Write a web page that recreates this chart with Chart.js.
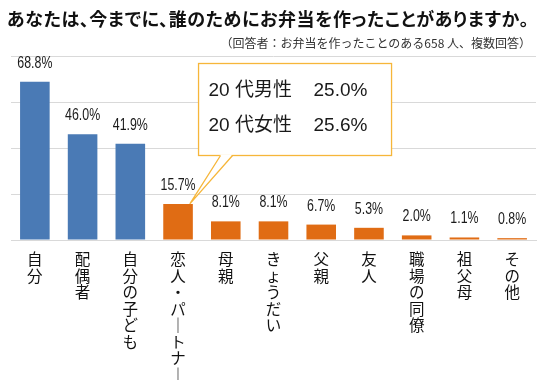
<!DOCTYPE html>
<html><head><meta charset="utf-8">
<script src="https://cdn.jsdelivr.net/npm/chart.js@4.4.0/dist/chart.umd.min.js"></script>
<style>
html,body{margin:0;padding:0;background:#fff;}
#wrap{position:relative;width:545px;height:380px;overflow:hidden;}
canvas{position:absolute;left:0;top:0;}
#title{position:absolute;left:7px;top:9px;font-weight:bold;font-size:18px;line-height:1;font-family:"Noto Sans CJK JP";color:#111;white-space:nowrap;font-feature-settings:"palt";letter-spacing:0.6px;}
#sub{position:absolute;right:14px;top:36.5px;font-size:12px;line-height:1;font-family:"Noto Sans CJK JP";color:#333;white-space:nowrap;}
</style></head><body>
<div id="wrap">
<canvas id="c" width="545" height="380"></canvas>
<div id="title">あなたは、今までに、誰のためにお弁当を作ったことがありますか。</div>
<div id="sub">（回答者：お弁当を作ったことのある658 人、複数回答）</div>
</div>
<script>
const categories = ['自分','配偶者','自分の子ども','恋人・パートナー','母親','きょうだい','父親','友人','職場の同僚','祖父母','その他'];
const values = [68.8, 46.0, 41.9, 15.7, 8.1, 8.1, 6.7, 5.3, 2.0, 1.1, 0.8];
const yTicks = [0, 20, 40, 60, 80];
const calloutLabels = ['20 代男性', '20 代女性'];
const calloutValues = [25.0, 25.6];
const calloutIndex = 3;

const BLUE = '#4a7ab5';
const ORANGE = '#e06c14';
const CALLOUT = '#f6b63a';
const FONT = '"Liberation Sans", "Noto Sans CJK JP", sans-serif';
const CJK = '"Noto Sans CJK JP", sans-serif';

const labelsPlugin = {
  id: 'valueLabels',
  afterDatasetsDraw(chart) {
    const ctx = chart.ctx;
    const meta = chart.getDatasetMeta(0);
    ctx.save();
    ctx.fillStyle = '#1a1a1a';
    ctx.font = '16.5px ' + FONT;
    ctx.textAlign = 'center';
    ctx.textBaseline = 'alphabetic';
    meta.data.forEach((bar, i) => {
      ctx.save();
      ctx.translate(bar.x, bar.y - 14);
      ctx.scale(0.75, 1);
      ctx.fillText(values[i].toFixed(1) + '%', 0, 0);
      ctx.restore();
    });
    ctx.restore();
  }
};

const calloutPlugin = {
  id: 'callout',
  afterDatasetsDraw(chart) {
    const ctx = chart.ctx;
    const bar = chart.getDatasetMeta(0).data[calloutIndex];
    const bx = bar.x + 20.5, by = 63.5, bw = 193, bh = 92;
    const tipX = bar.x + bar.width / 2 - 3, tipY = bar.y;
    const b1 = bar.x + 42.5, b2 = bar.x + 54.5;
    ctx.save();
    ctx.lineWidth = 1.3;
    ctx.strokeStyle = CALLOUT;
    ctx.fillStyle = '#fff';
    ctx.fillRect(bx, by, bw, bh);
    ctx.strokeRect(bx, by, bw, bh);
    ctx.beginPath();
    ctx.moveTo(b1, by + bh - 1);
    ctx.lineTo(tipX, tipY);
    ctx.lineTo(b2, by + bh - 1);
    ctx.closePath();
    ctx.fill();
    ctx.beginPath();
    ctx.moveTo(b1, by + bh);
    ctx.lineTo(tipX, tipY);
    ctx.lineTo(b2, by + bh);
    ctx.stroke();
    ctx.fillStyle = '#1a1a1a';
    ctx.font = '19px ' + FONT;
    ctx.textBaseline = 'middle';
    ctx.textAlign = 'left';
    const lineY = [91, 126];
    calloutLabels.forEach((t, i) => {
      ctx.fillText(t, bx + 10, lineY[i]);
      ctx.fillText(calloutValues[i].toFixed(1) + '%', bx + 115, lineY[i]);
    });
    ctx.restore();
  }
};

new Chart(document.getElementById('c').getContext('2d'), {
  type: 'bar',
  data: {
    labels: categories,
    datasets: [{
      data: values,
      backgroundColor: values.map((v, i) => i < 3 ? BLUE : ORANGE),
      barPercentage: 0.62,
      categoryPercentage: 1
    }]
  },
  options: {
    responsive: false,
    animation: false,
    devicePixelRatio: 1,
    layout: { padding: { left: 11, right: 9, top: 56, bottom: 0 } },
    plugins: { legend: { display: false }, tooltip: { enabled: false }, title: { display: false } },
    scales: {
      x: {
        grid: { display: false, drawTicks: false },
        border: { color: '#d9d9d9', width: 1 },
        ticks: {
          autoSkip: false, maxRotation: 0, minRotation: 0, padding: 11,
          color: '#111',
          font: { family: CJK, size: 15.5, lineHeight: '16.5px' },
          callback: (v, i) => Array.from(categories[i].replace(/ー/g, '｜'))
        },
        afterFit: s => { s.height = 140; }
      },
      y: {
        min: yTicks[0], max: yTicks[yTicks.length - 1],
        ticks: { stepSize: yTicks[1] - yTicks[0], display: false },
        grid: { color: '#d9d9d9', drawTicks: false },
        border: { display: false },
        afterFit: s => { s.width = 0; }
      }
    }
  },
  plugins: [labelsPlugin, calloutPlugin]
});
</script>
</body></html>
